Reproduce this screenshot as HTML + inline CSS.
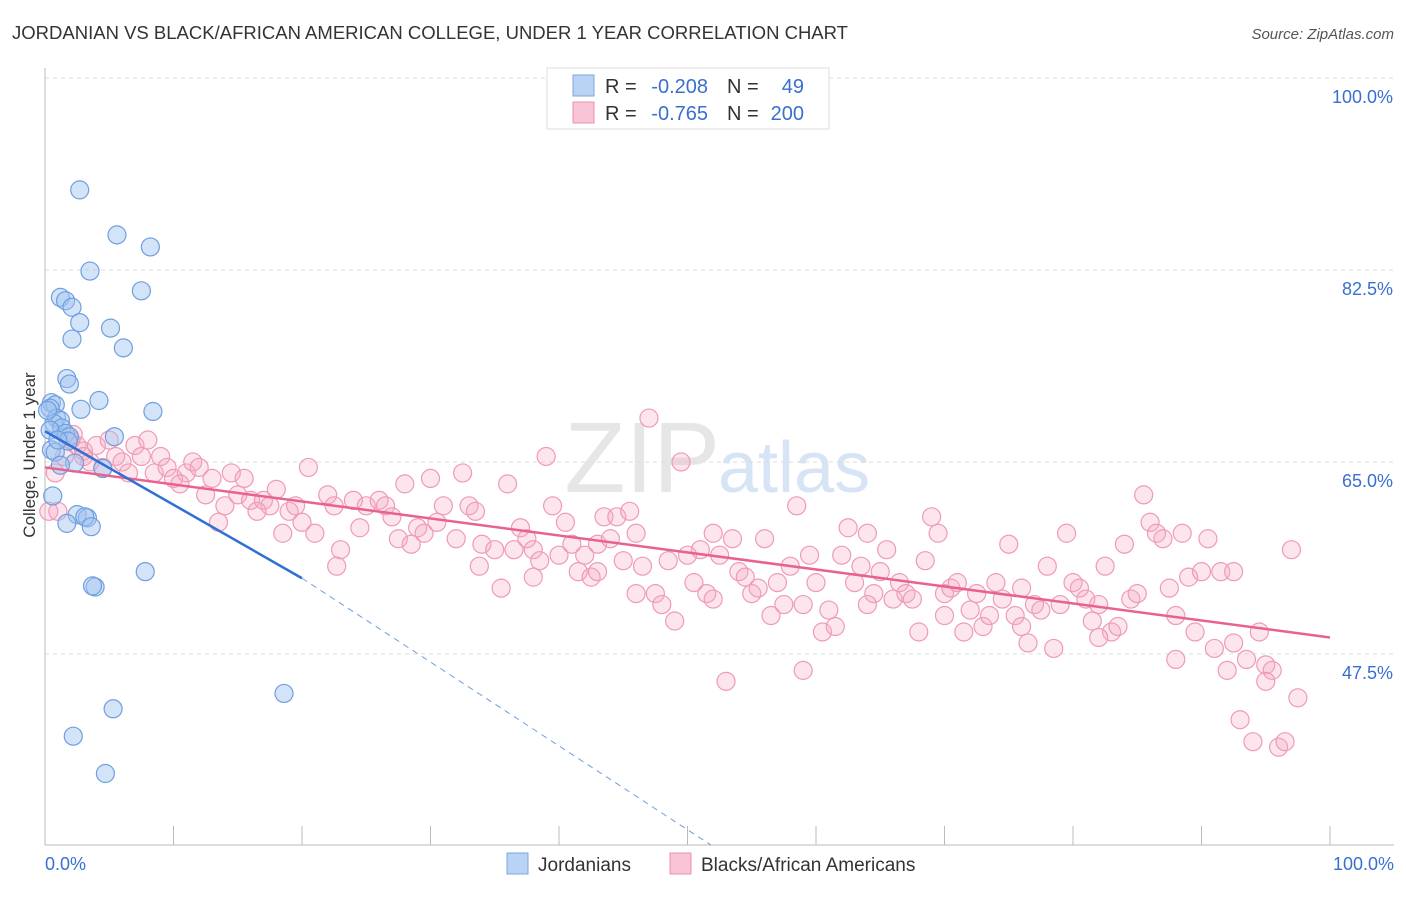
<!DOCTYPE html>
<html><head><meta charset="utf-8"><style>
body{margin:0;background:#fff;font-family:"Liberation Sans",sans-serif;}
svg text{font-family:"Liberation Sans",sans-serif;}
</style></head><body>
<svg id="chart" width="1406" height="892">
<text x="12" y="39" font-size="18" fill="#333" textLength="836" lengthAdjust="spacingAndGlyphs">JORDANIAN VS BLACK/AFRICAN AMERICAN COLLEGE, UNDER 1 YEAR CORRELATION CHART</text>
<text x="1394" y="39" font-size="15" fill="#555" font-style="italic" text-anchor="end">Source: ZipAtlas.com</text>
<text x="720" y="492" font-size="100" fill="#e6e6e6" text-anchor="end" font-family="Liberation Serif">ZIP</text>
<text x="718" y="492" font-size="72" fill="#d6e4f5">atlas</text>
<g id="grid"></g>
<g id="axes"></g>
<g id="pts"></g>
<g id="lines"></g>
<text transform="translate(35,455) rotate(-90)" font-size="17" fill="#333" text-anchor="middle">College, Under 1 year</text>
<g>
<rect x="547" y="68" width="282" height="61" fill="#fff" stroke="#ddd"/>
<rect x="573" y="75" width="21" height="21" fill="#b9d3f5" stroke="#7ea6e0"/>
<rect x="573" y="102" width="21" height="21" fill="#f9c5d6" stroke="#ec8fae"/>
<text x="605" y="93" font-size="20" fill="#333">R =</text>
<text x="708" y="93" font-size="20" fill="#3a6fd0" text-anchor="end">-0.208</text>
<text x="727" y="93" font-size="20" fill="#333">N =</text>
<text x="804" y="93" font-size="20" fill="#3a6fd0" text-anchor="end">49</text>
<text x="605" y="120" font-size="20" fill="#333">R =</text>
<text x="708" y="120" font-size="20" fill="#3a6fd0" text-anchor="end">-0.765</text>
<text x="727" y="120" font-size="20" fill="#333">N =</text>
<text x="804" y="120" font-size="20" fill="#3a6fd0" text-anchor="end">200</text>
</g>
<g>
<rect x="507" y="853" width="21" height="21" fill="#b9d3f5" stroke="#7ea6e0"/>
<text x="538" y="871" font-size="19" fill="#333">Jordanians</text>
<rect x="670" y="853" width="21" height="21" fill="#f9c5d6" stroke="#ec8fae"/>
<text x="701" y="871" font-size="19" fill="#333">Blacks/African Americans</text>
</g>
</svg>
<script>
const yTicks=[100,82.5,65,47.5];
const yTickLabels=["100.0%","82.5%","65.0%","47.5%"];
const blueX=[2.7,5.6,8.2,3.5,7.5,1.2,1.6,2.1,2.7,5.1,2.1,6.1,1.7,1.9,4.2,2.8,8.4,0.5,0.8,0.4,0.9,1.2,0.7,1.3,1.6,1.9,5.4,1.8,0.5,0.8,2.3,1.2,4.5,0.6,2.5,3.3,1.7,3.1,3.6,3.9,3.7,7.8,18.6,5.3,2.2,4.7,0.2,0.4,1.0];
const blueY=[89.8,85.7,84.6,82.4,80.6,80.0,79.7,79.1,77.7,77.2,76.2,75.4,72.6,72.1,70.6,69.8,69.6,70.4,70.2,69.9,69.0,68.8,68.5,68.1,67.6,67.3,67.3,66.9,66.1,65.9,64.9,64.7,64.4,61.9,60.2,59.9,59.4,60.0,59.1,53.6,53.7,55.0,43.9,42.5,40.0,36.6,69.7,67.9,67.0];
const pinkX=[0.3,0.8,1.5,2,2.5,3,3.5,4,5,5.5,6,7,7.5,8,8.5,9,9.5,10,11,11.5,12,12.5,13,14,14.5,15,15.5,16,17,17.5,18,18.5,19,19.5,20,20.5,21,22,22.5,23,24,24.5,25,26,26.5,27,27.5,28,28.5,29,29.5,30,30.5,31,32,32.5,33,33.5,34,35,35.5,36,36.5,37,37.5,38,38.5,39,39.5,40,40.5,41,41.5,42,42.5,43,43.5,44,44.5,45,45.5,46,46.5,47,47.5,48,48.5,49,49.5,50,50.5,51,51.5,52,52.5,53,53.5,54,54.5,55,55.5,56,56.5,57,57.5,58,58.5,59,59.5,60,60.5,61,61.5,62,62.5,63,63.5,64,64.5,65,65.5,66,66.5,67,67.5,68,68.5,69,69.5,70,70.5,71,71.5,72,72.5,73,73.5,74,74.5,75,75.5,76,76.5,77,77.5,78,78.5,79,79.5,80,80.5,81,81.5,82,82.5,83,83.5,84,84.5,85,85.5,86,86.5,87,87.5,88,88.5,89,89.5,90,90.5,91,91.5,92,92.5,93,93.5,94,94.5,95,95.5,96,96.5,97,97.5,3,6.5,10.5,2.2,4.5,1,13.5,16.5,22.7,33.8,38,43,46,52,59,64,70,76,82,88,92.5,95];
const pinkY=[60.5,64,65.5,67,66.5,66,65,66.5,67,65.5,65,66.5,65.5,67,64,65.5,64.5,63.5,64,65,64.5,62,63.5,61,64,62,63.5,61.5,61.5,61,62.5,58.5,60.5,61,59.5,64.5,58.5,62,61,57,61.5,59,61,61.5,61,60,58,63,57.5,59,58.5,63.5,59.5,61,58,64,61,60.5,57.5,57,53.5,63,57,59,58,57,56,65.5,61,56.5,59.5,57.5,55,56.5,54.5,57.5,60,58,60,56,60.5,58.5,55.5,69,53,52,56,50.5,65,56.5,54,57,53,58.5,56.5,45,58,55,54.5,53,53.5,58,51,54,52,55.5,61,46,56.5,54,49.5,51.5,50,56.5,59,54,55.5,58.5,53,55,57,52.5,54,53,52.5,49.5,56,60,58.5,53,53.5,54,49.5,51.5,53,50,51,54,52.5,57.5,51,53.5,48.5,52,51.5,55.5,48,52,58.5,54,53.5,52.5,50.5,52,55.5,49.5,50,57.5,52.5,53,62,59.5,58.5,58,53.5,51,58.5,54.5,49.5,55,58,48,55,46,55,41.5,47,39.5,49.5,46.5,46,39,39.5,57,43.5,65.5,64,63,67.5,64.5,60.5,59.5,60.5,55.5,55.5,54.5,55,53,52.5,52,52,51,50,49,47,48.5,45];
const xTickLabels=["0.0%","100.0%"];
const blueTrend=[[0,67.8],[20,54.4]], blueDash=[[20,54.4],[51.8,30.1]];
const pinkTrend=[[0,64.5],[100,49.0]];

const X=v=>45+v*12.85, Y=v=>78+(100-v)*10.97;
const NS="http://www.w3.org/2000/svg";
function mk(tag,attrs,parent){const e=document.createElementNS(NS,tag);for(const k in attrs)e.setAttribute(k,attrs[k]);document.getElementById(parent).appendChild(e);return e;}
yTicks.forEach((t,i)=>{
 const l=mk('line',{x1:45,x2:1394,y1:Y(t),y2:Y(t),stroke:'#ddd','stroke-dasharray':'4,4'},'grid');
 
 
 const tx=mk('text',{x:1393,y:Y(t)+25,'font-size':18,fill:'#3a6fd0','text-anchor':'end'},'grid');
 tx.textContent=yTickLabels[i];
 
 
});
const ax=mk('line',{x1:45,x2:1394,y1:845,y2:845,stroke:'#bbb'},'axes');


const ay=mk('line',{x1:45,x2:45,y1:68,y2:845,stroke:'#bbb'},'axes');


for(let i=0;i<=10;i++){
 const t=mk('line',{x1:X(i*10),x2:X(i*10),y1:826,y2:845,stroke:'#bbb'},'axes');
 
 
}
[[0,'start',45],[100,'end',1394]].forEach((a,i)=>{
 const tx=mk('text',{x:a[2],y:870,'font-size':18,fill:'#3a6fd0','text-anchor':a[1]},'axes');
 tx.textContent=xTickLabels[i];
 
 
});
pinkX.forEach((x,i)=>{
 const c=mk('circle',{cx:X(x),cy:Y(pinkY[i]),r:9,fill:'rgba(246,170,196,0.3)',stroke:'#ef9ab7','stroke-width':1.2},'pts');
 
 
});
blueX.forEach((x,i)=>{
 const c=mk('circle',{cx:X(x),cy:Y(blueY[i]),r:9,fill:'rgba(160,195,240,0.45)',stroke:'#6f9ee0','stroke-width':1.2},'pts');
 
 
});
const l1=mk('line',{x1:X(pinkTrend[0][0]),y1:Y(pinkTrend[0][1]),x2:X(pinkTrend[1][0]),y2:Y(pinkTrend[1][1]),stroke:'#e8628f','stroke-width':2.5},'lines');


const l2=mk('line',{x1:X(blueTrend[0][0]),y1:Y(blueTrend[0][1]),x2:X(blueTrend[1][0]),y2:Y(blueTrend[1][1]),stroke:'#2f6fd6','stroke-width':2.5},'lines');


const l3=mk('line',{x1:X(blueDash[0][0]),y1:Y(blueDash[0][1]),x2:X(blueDash[1][0]),y2:Y(blueDash[1][1]),stroke:'#6f9ee0','stroke-width':1,'stroke-dasharray':'6,5'},'lines');


</script>
</body></html>
